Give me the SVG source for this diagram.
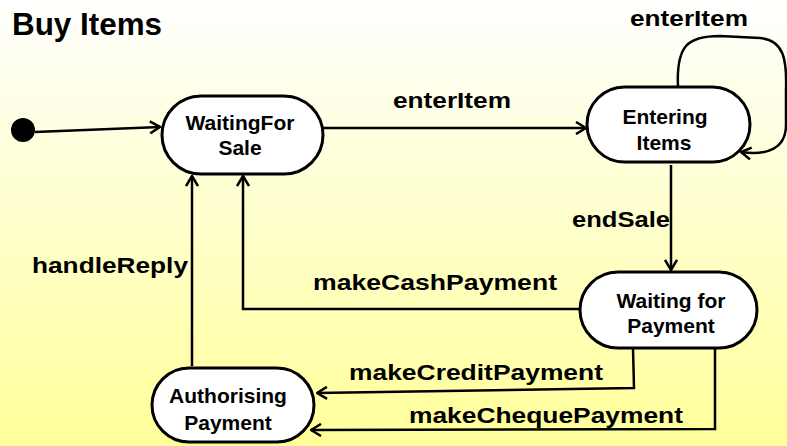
<svg xmlns="http://www.w3.org/2000/svg" width="787" height="446" viewBox="0 0 787 446">
<defs>
<linearGradient id="bg" x1="0" y1="0" x2="0" y2="1">
<stop offset="0" stop-color="#ffffff"/>
<stop offset="1" stop-color="#ffff99"/>
</linearGradient>
<marker id="arr" viewBox="0 0 12 14" refX="11" refY="7" markerWidth="12" markerHeight="14" markerUnits="userSpaceOnUse" orient="auto">
<path d="M1,1 L11,7 L1,13" fill="none" stroke="#000" stroke-width="2.5"/>
</marker>
<style>
.st{fill:#fff;stroke:#000;stroke-width:3}
.nt{font-family:"Liberation Sans",Arial,sans-serif;font-weight:bold;font-size:21px;text-anchor:middle;fill:#000}
.lb{font-family:"Liberation Sans",Arial,sans-serif;font-weight:bold;font-size:22px;fill:#000}
.cn{fill:none;stroke:#000;stroke-width:2.5;marker-end:url(#arr)}
</style>
</defs>
<rect x="0" y="0" width="787" height="446" fill="url(#bg)"/>
<text x="12" y="35" font-family="'Liberation Sans',Arial,sans-serif" font-weight="bold" font-size="31" textLength="150" lengthAdjust="spacingAndGlyphs">Buy Items</text>

<g id="connectors">
<path class="cn" d="M35,132 L160,127"/>
<path class="cn" d="M323,128 L586,128"/>
<path class="cn" d="M678,87 C676,45 688,36 720,36 L760,38 C784,40 787,60 786,90 L786,125 C786,148 768,156 741,152"/>
<path class="cn" d="M671,165 L671,270"/>
<path class="cn" d="M580,309 L243,309 L243,176"/>
<path class="cn" d="M192,366 L192,176"/>
<path class="cn" d="M633,348 L634,388 L317,393"/>
<path class="cn" d="M715,348 L715,429 L311,430"/>
</g>

<g id="initial">
<circle cx="23" cy="130" r="12" fill="#000"/>
</g>

<g id="waitingForSale">
<rect class="st" x="162" y="96" width="161" height="78" rx="39"/>
<text class="nt" x="240" y="130">WaitingFor</text>
<text class="nt" x="240" y="155">Sale</text>
</g>

<g id="enteringItems">
<rect class="st" x="587" y="87" width="163" height="75" rx="37.5"/>
<text class="nt" x="665" y="124">Entering</text>
<text class="nt" x="664" y="150">Items</text>
</g>

<g id="waitingForPayment">
<rect class="st" x="580" y="272" width="177" height="76" rx="38"/>
<text class="nt" x="671" y="308">Waiting for</text>
<text class="nt" x="671" y="333">Payment</text>
</g>

<g id="authorisingPayment">
<rect class="st" x="152" y="368" width="162" height="74" rx="37"/>
<text class="nt" x="228" y="403">Authorising</text>
<text class="nt" x="228" y="430">Payment</text>
</g>

<g id="labels">
<text class="lb" x="393" y="108" textLength="118" lengthAdjust="spacingAndGlyphs">enterItem</text>
<text class="lb" x="630" y="26" textLength="118" lengthAdjust="spacingAndGlyphs">enterItem</text>
<text class="lb" x="572" y="227" textLength="98" lengthAdjust="spacingAndGlyphs">endSale</text>
<text class="lb" x="313" y="290" textLength="244" lengthAdjust="spacingAndGlyphs">makeCashPayment</text>
<text class="lb" x="32" y="273" textLength="156" lengthAdjust="spacingAndGlyphs">handleReply</text>
<text class="lb" x="349" y="380" textLength="254" lengthAdjust="spacingAndGlyphs">makeCreditPayment</text>
<text class="lb" x="409" y="423" textLength="274" lengthAdjust="spacingAndGlyphs">makeChequePayment</text>
</g>
</svg>
